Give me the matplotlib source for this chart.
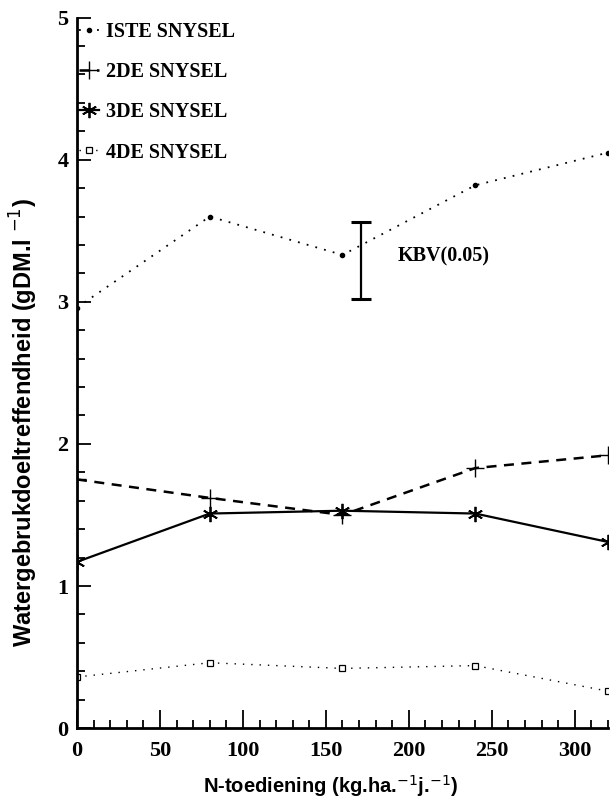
import matplotlib.pyplot as plt
import numpy as np

# N-application levels and water-use efficiency per cutting
n_dose = [0, 80, 160, 240, 320]
snysel_1 = [2.96, 3.60, 3.33, 3.82, 4.05]
snysel_2 = [1.75, 1.62, 1.50, 1.83, 1.92]
snysel_3 = [1.17, 1.51, 1.53, 1.51, 1.31]
snysel_4 = [0.36, 0.46, 0.42, 0.44, 0.26]
labels = ['ISTE SNYSEL', '2DE SNYSEL', '3DE SNYSEL', '4DE SNYSEL']

# KBV(0.05) bar
kbv_x = 171
kbv_lo, kbv_hi = 3.02, 3.56

serif = 'Liberation Serif'
sans = 'Liberation Sans'

fig = plt.figure(figsize=(6.16, 8.01), dpi=100)
ax = fig.add_axes([0.125, 0.091, 0.862, 0.887])

ax.plot(n_dose, snysel_1, color='black', ls=(0, (1, 4)), lw=1.3,
        marker='o', ms=3, label=labels[0])
ax.plot(n_dose, snysel_2, color='black', ls=(0, (4, 3)), lw=1.8,
        marker='+', ms=13, mew=1.0, label=labels[1])
ax.plot(n_dose, snysel_3, color='black', ls='-', lw=1.6,
        marker=(6, 2, 0), ms=11, mew=1.3, label=labels[2])
ax.plot(n_dose, snysel_4, color='black', ls=(0, (1, 5)), lw=1.0,
        marker='s', ms=4.5, mfc='white', mew=0.9, label=labels[3])

ax.errorbar([kbv_x], [(kbv_lo + kbv_hi) / 2],
            yerr=[[(kbv_hi - kbv_lo) / 2]], color='black',
            capsize=7, capthick=2.2, elinewidth=1.6, fmt='none')
ax.text(193, 3.32, 'KBV(0.05)', fontfamily=serif, fontweight='bold',
        fontsize=14.5, va='center')

ax.set_xlim(0, 320)
ax.set_ylim(0, 5)
ax.set_xticks(np.arange(0, 301, 50))
ax.set_xticks(np.arange(0, 321, 10), minor=True)
ax.set_yticks(np.arange(0, 6, 1))
ax.set_yticks(np.arange(0, 5.01, 0.2), minor=True)
ax.tick_params(which='both', direction='in', width=1.3)
ax.tick_params(which='major', length=13, labelsize=16, pad=9)
ax.tick_params(which='minor', length=6)
ax.tick_params(axis='y', which='major', length=10, pad=6)
for lab in ax.get_xticklabels() + ax.get_yticklabels():
    lab.set_fontfamily(serif)
    lab.set_fontweight('bold')

for side in ['top', 'right']:
    ax.spines[side].set_visible(False)
for side in ['left', 'bottom']:
    ax.spines[side].set_linewidth(2)

ax.set_xlabel('N-toediening (kg.ha.$^{-1}$j.$^{-1}$)', fontfamily=sans,
              fontweight='bold', fontsize=14.5)
ax.set_ylabel('Watergebrukdoeltreffendheid (gDM.l $^{-1}$)', fontfamily=sans,
              fontweight='bold', fontsize=17)
ax.xaxis.set_label_coords(0.478, -0.063)
ax.yaxis.set_label_coords(-0.07, 0.43)

leg = ax.legend(loc='upper left', frameon=False, handlelength=1.0,
                handletextpad=0.35, labelspacing=1.0, borderaxespad=0,
                bbox_to_anchor=(-0.012, 1.005),
                prop={'family': serif, 'weight': 'bold', 'size': 14.5})

fig.savefig('out.png', dpi=100)
